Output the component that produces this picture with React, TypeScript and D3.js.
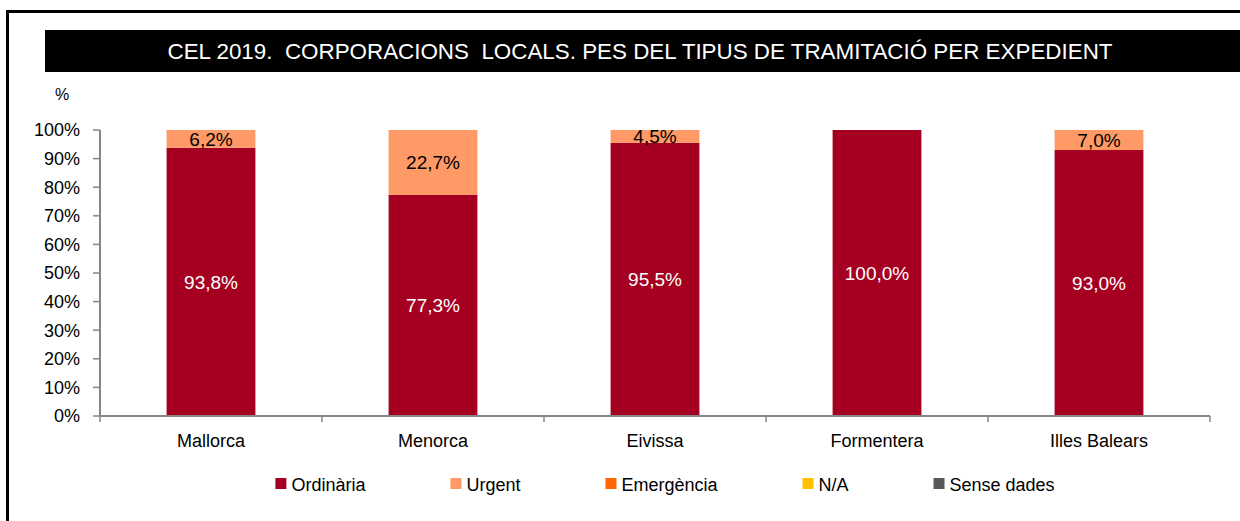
import * as d3 from 'd3';
import React, { useEffect, useRef } from 'react';

const width = 1240;
const height = 521;

const categories = ['Mallorca', 'Menorca', 'Eivissa', 'Formentera', 'Illes Balears'];
const seriesNames = ['Ordinària', 'Urgent', 'Emergència', 'N/A', 'Sense dades'];
const seriesColors = ['#A50021', '#FF9966', '#FF6600', '#FFC000', '#595959'];
const labelColors = ['#FFFFFF', '#000000', '#000000', '#000000', '#FFFFFF'];

// percentages per island, one array per series
const ordinaria = [93.8, 77.3, 95.5, 100.0, 93.0];
const urgent = [6.2, 22.7, 4.5, 0, 7.0];
const emergencia = [0, 0, 0, 0, 0];
const na = [0, 0, 0, 0, 0];
const senseDades = [0, 0, 0, 0, 0];

const yTicks = [0, 10, 20, 30, 40, 50, 60, 70, 80, 90, 100];
const title = 'CEL 2019.  CORPORACIONS  LOCALS. PES DEL TIPUS DE TRAMITACIÓ PER EXPEDIENT';
const font = '"Liberation Sans", Arial, sans-serif';

export default function App() {
    const ref = useRef<SVGSVGElement>(null);

    useEffect(() => {
        const svg = d3.select(ref.current);
        svg.selectAll('*').remove();

        const margin = { top: 130, right: 30, bottom: 105, left: 100 };
        const series = [ordinaria, urgent, emergencia, na, senseDades];

        // frame
        svg.append('rect')
            .attr('x', 7.5).attr('y', 11.5)
            .attr('width', width + 20).attr('height', height + 20)
            .attr('fill', 'none').attr('stroke', '#000').attr('stroke-width', 3);

        // title bar
        svg.append('rect')
            .attr('x', 45).attr('y', 30)
            .attr('width', width - 45).attr('height', 42)
            .attr('fill', '#000');
        svg.append('text')
            .attr('x', 640).attr('y', 58.5)
            .attr('text-anchor', 'middle')
            .attr('fill', '#fff')
            .attr('font-size', 22)
            .attr('textLength', 945)
            .attr('lengthAdjust', 'spacingAndGlyphs')
            .style('white-space', 'pre')
            .text(title);

        svg.append('text')
            .attr('x', 62).attr('y', 100)
            .attr('text-anchor', 'middle')
            .attr('font-size', 16)
            .text('%');

        const x = d3.scaleBand()
            .domain(categories)
            .range([margin.left, width - margin.right])
            .paddingInner(0.6)
            .paddingOuter(0.3);

        const y = d3.scaleLinear()
            .domain([0, 100])
            .range([height - margin.bottom, margin.top]);

        // stacked bars
        const rows = categories.map((c, i) => {
            const r: any = { cat: c };
            seriesNames.forEach((s, k) => { r[s] = series[k][i]; });
            return r;
        });
        const stacked = d3.stack().keys(seriesNames)(rows);

        stacked.forEach((layer, k) => {
            const g = svg.append('g');
            g.selectAll('rect')
                .data(layer.filter(d => d[1] - d[0] > 0))
                .enter()
                .append('rect')
                .attr('x', d => x(d.data.cat as string)!)
                .attr('width', x.bandwidth())
                .attr('y', d => y(d[1]))
                .attr('height', d => y(d[0]) - y(d[1]))
                .attr('fill', seriesColors[k]);
        });

        // axes
        const axisColor = '#868686';
        const yAxis = svg.append('g');
        yAxis.append('line')
            .attr('x1', margin.left).attr('x2', margin.left)
            .attr('y1', y(100)).attr('y2', y(0))
            .attr('stroke', axisColor).attr('stroke-width', 2);
        yTicks.forEach(t => {
            yAxis.append('line')
                .attr('x1', margin.left - 7).attr('x2', margin.left)
                .attr('y1', y(t)).attr('y2', y(t))
                .attr('stroke', axisColor).attr('stroke-width', 1.5);
            yAxis.append('text')
                .attr('x', 80).attr('y', y(t))
                .attr('dy', '0.35em')
                .attr('text-anchor', 'end')
                .attr('font-size', 18)
                .text(t + '%');
        });

        const xAxis = svg.append('g');
        xAxis.append('line')
            .attr('x1', margin.left).attr('x2', width - margin.right)
            .attr('y1', y(0)).attr('y2', y(0))
            .attr('stroke', axisColor).attr('stroke-width', 2);
        const bounds = categories.map(c => x(c)! - (x.step() - x.bandwidth()) / 2)
            .concat([width - margin.right]);
        bounds.forEach(b => {
            xAxis.append('line')
                .attr('x1', b).attr('x2', b)
                .attr('y1', y(0)).attr('y2', y(0) + 6)
                .attr('stroke', axisColor).attr('stroke-width', 1.5);
        });
        categories.forEach(c => {
            xAxis.append('text')
                .attr('x', x(c)! + x.bandwidth() / 2)
                .attr('y', 447)
                .attr('text-anchor', 'middle')
                .attr('font-size', 18)
                .text(c);
        });

        // data labels
        stacked.forEach((layer, k) => {
            svg.append('g').selectAll('text')
                .data(layer.filter(d => d[1] - d[0] > 0))
                .enter()
                .append('text')
                .attr('x', d => x(d.data.cat as string)! + x.bandwidth() / 2)
                .attr('y', d => (y(d[0]) + y(d[1])) / 2)
                .attr('dy', '0.35em')
                .attr('text-anchor', 'middle')
                .attr('font-size', 19)
                .attr('fill', labelColors[k])
                .text(d => (d[1] - d[0]).toFixed(1).replace('.', ',') + '%');
        });

        // legend
        const legend = svg.append('g');
        let lx = 0;
        seriesNames.forEach((s, k) => {
            const item = legend.append('g').attr('transform', `translate(${lx},0)`);
            item.append('rect')
                .attr('x', 0).attr('y', 478)
                .attr('width', 11).attr('height', 11)
                .attr('fill', seriesColors[k]);
            const t = item.append('text')
                .attr('x', 16).attr('y', 491)
                .attr('font-size', 18)
                .text(s);
            const w = (t.node() as SVGTextElement).getComputedTextLength();
            lx += 16 + w + 85;
        });
        const legendWidth = lx - 85;
        legend.attr('transform', `translate(${665 - legendWidth / 2},0)`);
    }, []);

    return (
        <svg
            ref={ref}
            width={width}
            height={height}
            style={{ position: 'absolute', left: 0, top: 0, background: '#fff', fontFamily: font }}
        />
    );
}
